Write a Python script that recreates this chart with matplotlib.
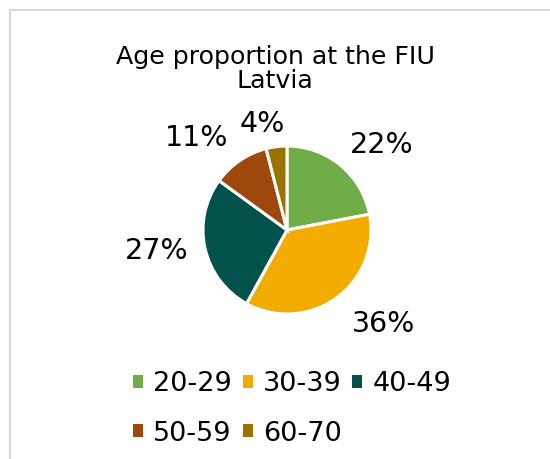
import matplotlib.pyplot as plt
import numpy as np
from matplotlib.patches import Patch, Rectangle

# chart data
age_groups = ['20-29', '30-39', '40-49', '50-59', '60-70']
shares = [22, 36, 27, 11, 4]
colors = ['#70AD47', '#F2AC00', '#00524A', '#9E480E', '#997300']
title = 'Age proportion at the FIU\nLatvia'

# label layout tweaks (radius factor, angle nudge in degrees)
lbl_dist = [1.52, 1.59, 1.57, 1.54, 1.31]
lbl_nudge = [-8, 10, -4, 10, 6]

W, H = 550, 459
fig = plt.figure(figsize=(W / 100, H / 100), dpi=100)
ax = fig.add_axes([0, 0, 1, 1])

# frame of the chart area (cut off at right and bottom)
ax.add_patch(Rectangle((10, -20), W + 20, H - 10 + 20, fill=False,
                       edgecolor='#D9D9D9', linewidth=1.5))

cx, cy, r = 287, H - 230, 84
wedges, _ = ax.pie(shares, colors=colors, startangle=90, counterclock=False,
                   center=(cx, cy), radius=r, frame=True,
                   wedgeprops=dict(edgecolor='white', linewidth=2.2))
ax.set_xlim(0, W)
ax.set_ylim(0, H)
ax.axis('off')

for w, s, d, n in zip(wedges, shares, lbl_dist, lbl_nudge):
    mid = np.deg2rad((w.theta1 + w.theta2) / 2 + n)
    ax.text(cx + d * r * np.cos(mid), cy - 1 + d * r * np.sin(mid), '{}%'.format(s),
            ha='center', va='center', fontsize=20.5, color='#000000')

ax.text(275, H - 69, title, ha='center', va='center', fontsize=18.2,
        linespacing=1.05, color='#000000')

handles = [Patch(facecolor=c, edgecolor='none') for c in colors]
order = [0, 3, 1, 4, 2]
leg = ax.legend([handles[i] for i in order], [age_groups[i] for i in order],
                ncol=3, loc='center left', bbox_to_anchor=(133 / W, 1 - 409 / H),
                frameon=False, fontsize=19.5, handlelength=0.37, handleheight=0.37,
                handletextpad=0.37, columnspacing=0.4, labelspacing=0.85,
                borderpad=0, borderaxespad=0)

fig.savefig('out.png', dpi=100)
